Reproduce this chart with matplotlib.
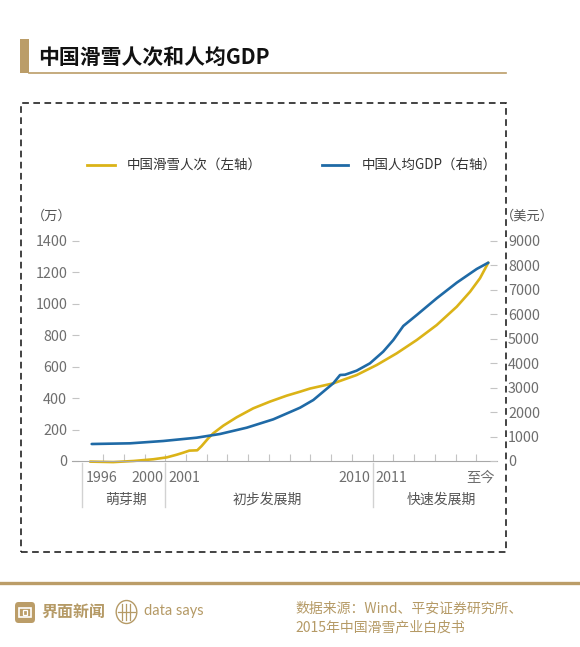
import matplotlib
matplotlib.use('Agg')
import matplotlib.pyplot as plt
from matplotlib.patches import Rectangle, FancyBboxPatch, Circle
from matplotlib.lines import Line2D
from matplotlib import transforms

plt.rcParams['font.family'] = ['Noto Sans CJK SC', 'DejaVu Sans']
plt.rcParams['lines.scale_dashes'] = False

# Data
ski_years = [1996.37, 1997.49, 1998.46, 1999.42, 2000.07, 2000.55, 2000.87, 2001.16,
             2001.54, 2001.75, 2002.07, 2002.31, 2002.8, 2003.44, 2004.24, 2005.05,
             2005.86, 2006.5, 2006.98, 2008.1, 2009.23, 2010.2, 2011.16, 2012.13,
             2013.09, 2014.06, 2014.7, 2015.18, 2015.58]
ski_visits = [-4, -7, 0, 11, 23, 40, 53, 66, 68, 95, 144, 176, 225, 278, 335, 378,
              416, 441, 461, 494, 547, 611, 685, 770, 865, 982, 1077, 1163, 1262]

gdp_years = [1996.45, 1998.3, 1999.9, 2001.51, 2002.64, 2003.93, 2005.21, 2006.17,
             2006.5, 2007.14, 2007.62, 2008.1, 2008.43, 2008.67, 2009.23, 2009.87,
             2010.51, 2011.0, 2011.48, 2012.13, 2013.09, 2014.06, 2015.02, 2015.58]
gdp_per_capita = [695, 723, 818, 953, 1105, 1363, 1705, 2058, 2181, 2495, 2836, 3177,
                  3518, 3530, 3695, 3995, 4473, 4950, 5523, 5973, 6655, 7296, 7855, 8113]

left_ticks = [0, 200, 400, 600, 800, 1000, 1200, 1400]
right_ticks = [0, 1000, 2000, 3000, 4000, 5000, 6000, 7000, 8000, 9000]
minor_years = list(range(1997, 2016))
period_bounds = [1996, 2000, 2010]
year_labels = [('1996', 1996, 'left'), ('2000', 2000, 'right'), ('2001', 2000, 'left'),
               ('2010', 2010, 'right'), ('2011', 2010, 'left'), ('至今', 2016, 'right')]
period_labels = [('萌芽期', 1998.1), ('初步发展期', 2004.9), ('快速发展期', 2013.3)]

YELLOW = '#dbb317'
BLUE = '#1f6aa6'
GOLD = '#bb9d68'
GOLD_TXT = '#b59a66'

W, H = 580, 647
fig = plt.figure(figsize=(W / 100, H / 100), dpi=100)


def fx(px):
    return px / W


def fy(py):
    return 1 - py / H


# title block
fig.add_artist(Rectangle((fx(20), fy(73)), fx(9), 34 / H, transform=fig.transFigure,
                         color=GOLD, lw=0))
fig.add_artist(Line2D([fx(29), fx(506)], [fy(73), fy(73)], transform=fig.transFigure,
                      color=GOLD, lw=1.2))
fig.text(fx(38), fy(57), '中国滑雪人次和人均GDP', fontsize=15, fontweight='bold',
         color='#111111', va='center', ha='left')

# dashed frame
fig.add_artist(Rectangle((fx(21), fy(552)), fx(485), (552 - 103) / H,
                         transform=fig.transFigure, fill=False, edgecolor='#222222',
                         lw=1.2, linestyle=(0, (4.8, 3.2))))

# legend
fig.add_artist(Line2D([fx(87), fx(115)], [fy(165), fy(165)], transform=fig.transFigure,
                      color=YELLOW, lw=2))
fig.text(fx(127), fy(165), '中国滑雪人次（左轴）', fontsize=9.7, color='#333333', va='center')
fig.add_artist(Line2D([fx(322), fx(348)], [fy(165), fy(165)], transform=fig.transFigure,
                      color=BLUE, lw=2))
fig.text(fx(362), fy(165), '中国人均GDP（右轴）', fontsize=9.7, color='#333333', va='center')

# main axes
ax = fig.add_axes([fx(72), fy(464.14), fx(425), (464.14 - 231.57) / H])
ax.set_xlim(1995.5, 2016)
ax.set_ylim(-20, 1460)
ax.patch.set_alpha(0)
for s in ['top', 'right', 'left']:
    ax.spines[s].set_visible(False)
ax.spines['bottom'].set_position(('data', 0))
ax.spines['bottom'].set_color('#a8a8a8')
ax.set_xticks(minor_years)
ax.tick_params(axis='x', direction='in', length=5, color='#c4c4c4', labelbottom=False)
ax.set_yticks(left_ticks)
ax.tick_params(axis='y', direction='in', length=5, color='#c4c4c4', labelcolor='#6e6e6e',
               labelsize=10.3, pad=3.5)
ax.plot(ski_years, ski_visits, color=YELLOW, lw=1.9, solid_capstyle='round')

ax2 = ax.twinx()
ax2.set_ylim(-20 * 9000 / 1400, 1460 * 9000 / 1400)
for s in ax2.spines.values():
    s.set_visible(False)
ax2.set_yticks(right_ticks)
ax2.tick_params(axis='y', direction='in', length=5, color='#c4c4c4', labelcolor='#6e6e6e',
                labelsize=10.3, pad=8)
ax2.plot(gdp_years, gdp_per_capita, color=BLUE, lw=1.9, solid_capstyle='round')

# units
fig.text(fx(52), fy(216), '（万）', fontsize=9.5, color='#555555', ha='center', va='center')
fig.text(fx(527), fy(216), '（美元）', fontsize=9.5, color='#555555', ha='center', va='center')

# x labels below the axis
tr = transforms.blended_transform_factory(ax.transData, fig.transFigure)
for b in period_bounds:
    ax.plot([b, b], [fy(463), fy(507)], transform=tr, color='#d2d2d2', lw=1, clip_on=False)
pad = {'left': 0.15, 'right': -0.1}
for lab, xv, ha in year_labels:
    ax.text(xv + pad[ha], fy(478), lab, transform=tr, ha=ha, va='center', fontsize=10.3,
            color='#6e6e6e')
for lab, xv in period_labels:
    ax.text(xv, fy(500), lab, transform=tr, ha='center', va='center', fontsize=10,
            color='#555555')

# footer
fig.add_artist(Line2D([0, 1], [fy(583), fy(583)], transform=fig.transFigure, color=GOLD,
                      lw=2.4))
fig.add_artist(FancyBboxPatch((fx(15), fy(623)), fx(20), 21 / H,
                              boxstyle='round,pad=0,rounding_size=0.006',
                              transform=fig.transFigure, color=GOLD, lw=0))
fig.add_artist(Rectangle((fx(19), fy(617)), fx(12), 9 / H, transform=fig.transFigure,
                         fill=False, edgecolor='white', lw=1.2))
fig.add_artist(Rectangle((fx(23), fy(615)), fx(4), 5 / H, transform=fig.transFigure,
                         fill=False, edgecolor='white', lw=0.9))
fig.text(fx(41), fy(612), '界面新闻', fontsize=11.5, fontweight='bold', color=GOLD_TXT,
         va='center')
fig.add_artist(Circle((fx(126.5), fy(612)), 11.5 / H, transform=fig.transFigure,
                      fill=False, edgecolor=GOLD_TXT, lw=1))
for lx in (122, 126, 130):
    fig.add_artist(Line2D([fx(lx), fx(lx)], [fy(604), fy(620)], transform=fig.transFigure,
                          color=GOLD_TXT, lw=0.9))
fig.add_artist(Line2D([fx(118), fx(135)], [fy(612), fy(612)], transform=fig.transFigure,
                      color=GOLD_TXT, lw=0.9))
fig.text(fx(144), fy(611), 'data says', fontsize=10.5, color=GOLD_TXT, va='center',
         family=['Lato', 'DejaVu Sans'])
fig.text(fx(295), fy(609), '数据来源：Wind、平安证券研究所、', fontsize=10, color=GOLD_TXT,
         va='center')
fig.text(fx(295), fy(627), '2015年中国滑雪产业白皮书', fontsize=10, color=GOLD_TXT,
         va='center')

fig.savefig('out.png', dpi=100, facecolor='white')
